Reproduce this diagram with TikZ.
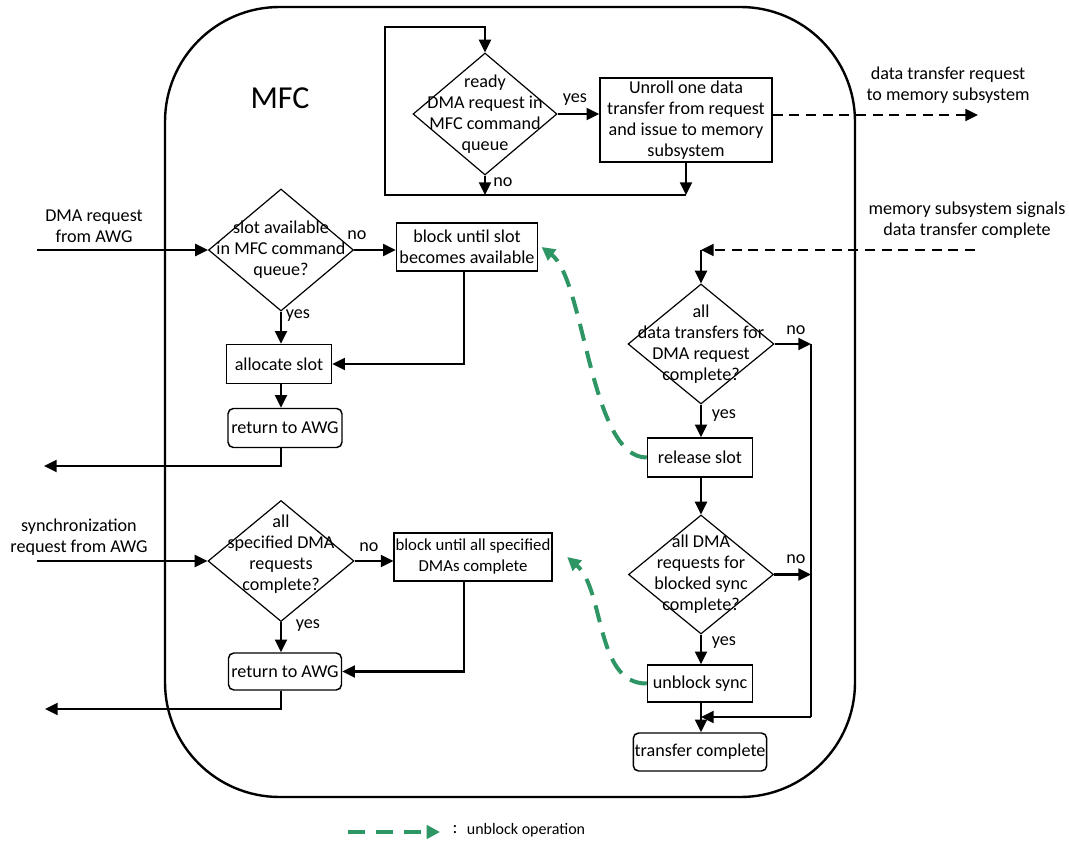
\documentclass[tikz,border=0pt]{standalone}
\usepackage{fontspec}
\setmainfont{Carlito}
\usetikzlibrary{shapes.geometric,arrows.meta}
\definecolor{unblockgreen}{RGB}{46,150,100}

\begin{document}
\begin{tikzpicture}[x=0.75pt,y=-0.75pt,
  sz/.style 2 args={minimum width=#1*0.75pt, minimum height=#2*0.75pt},
  txt/.style={font=\fontsize{13.6}{15.75}\selectfont, align=center, inner sep=0pt},
  proc/.style={draw, line width=1.1pt, txt, inner sep=1pt},
  term/.style={proc, rounded corners=4pt},
  dec/.style={draw, diamond, line width=0.9pt, inner sep=0pt},
  flow/.style={line width=1.6pt, -{Triangle[length=9.5pt,width=9pt]}},
  wire/.style={line width=1.6pt},
  sig/.style={line width=1.6pt, dash pattern=on 7.5pt off 5pt, -{Triangle[length=9.5pt,width=9pt]}},
  unblk/.style={color=unblockgreen, line width=3pt, dash pattern=on 13pt off 8pt,
    -{Triangle[length=10pt,width=10pt]}},
]
\useasboundingbox (0,0) rectangle (1069,841);

% MFC outline
\node[draw, line width=1.8pt, rounded corners=86pt, sz={690}{790}, inner sep=0pt] (mfcbox) at (510,402) {};
\node[txt, font=\fontsize{24}{28}\selectfont] (mfclbl) at (280,98) {MFC};

% outside labels
\node[txt] (xferreq) at (948,85) {data transfer request\\to memory subsystem};
\node[txt] (memsig) at (967,220) {memory subsystem signals\\data transfer complete};
\node[txt] (dmareq) at (94,226) {DMA request\\from AWG};
\node[txt] (syncreq) at (79,537) {synchronization\\request from AWG};

% issue loop
\node[dec, sz={144}{122}, label={[txt]center:ready\\DMA request in\\MFC command\\queue}] (qready) at (485,114) {};
\node[proc, sz={172}{84}] (unroll) at (686,120) {Unroll one data\\transfer from request\\and issue to memory\\subsystem};

% DMA request path
\node[dec, sz={145}{122}, label={[txt]center:slot available\\in MFC command\\queue?}] (qslot) at (281,250) {};
\node[proc, sz={141}{48}] (blkslot) at (467,247) {block until slot\\becomes available};
\node[proc, sz={105}{39}] (alloc) at (279,364) {allocate slot};
\node[term, sz={114}{39}] (ret1) at (285,428) {return to AWG};

% synchronization path
\node[dec, sz={146}{121}, label={[txt,yshift=5pt]center:all\\specified DMA\\requests\\complete?}] (qsync) at (281,561) {};
\node[proc, sz={154}{48}, font=\fontsize{12.6}{15.75}\selectfont] (blksync) at (473,557) {block until all specified\\DMAs complete};
\node[term, sz={113}{37}] (ret2) at (285,671.5) {return to AWG};

% completion path
\node[dec, sz={146}{120}, label={[txt]center:all\\data transfers for\\DMA request\\complete?}] (qxfer) at (701,344) {};
\node[proc, sz={105}{39}] (release) at (700,457.5) {release slot};
\node[dec, sz={145}{119}, label={[txt]center:all DMA\\requests for\\blocked sync\\complete?}] (qblk) at (701,574.5) {};
\node[proc, sz={105}{37}] (unblock) at (700,683.5) {unblock sync};
\node[term, sz={132}{38}] (done) at (700,752) {transfer complete};

% branch labels
\node[txt] (yes1) at (575,100) {yes};
\node[txt] (no1) at (503,182) {no};
\node[txt] (no2) at (357,235) {no};
\node[txt] (yes2) at (298,316) {yes};
\node[txt] (no3) at (369,547) {no};
\node[txt] (yes3) at (308,626) {yes};
\node[txt] (no4) at (796,330) {no};
\node[txt] (yes4) at (724,416) {yes};
\node[txt] (no5) at (796,559) {no};
\node[txt] (yes5) at (724,643) {yes};

% free ends and bends
\coordinate (lpbr) at (686,195);
\coordinate (lpbl) at (385,195);
\coordinate (lptl) at (385,27);
\coordinate (xferout) at (978,115);
\coordinate (sigin) at (975,250);
\coordinate (sigcorner) at (701,250);
\coordinate (in1) at (37,250);
\coordinate (out1) at (44,466);
\coordinate (in2) at (37,561);
\coordinate (out2) at (45,709);
\coordinate (busbot) at (811,717);
\coordinate (merge) at (701,717);
\coordinate (lg1) at (348,832);
\coordinate (lg2) at (440,832);

% issue loop connectors
\draw[flow] (unroll.south) -- (lpbr);
\draw[flow] (lpbr) -- (lpbl) -- (lptl) -| (qready.north);
\draw[flow] (qready.south) -- (qready.south |- lpbl);
\draw[flow] (qready.east) -- (qready.east -| unroll.west);
\draw[sig] ([yshift=3.75pt]unroll.east) -- (xferout);

% DMA request connectors
\draw[flow] (in1) -- (qslot.west);
\draw[flow] (qslot.east) -- (qslot.east -| blkslot.west);
\draw[flow] (qslot.south) -- (qslot.south |- alloc.north);
\draw[flow] ([xshift=-2.25pt]blkslot.south) |- (alloc.east);
\draw[flow] (qslot.south |- alloc.south) -- (qslot.south |- ret1.north);
\draw[flow] (qslot.south |- ret1.south) |- (out1);

% synchronization connectors
\draw[flow] (in2) -- (qsync.west);
\draw[flow] (qsync.east) -- (qsync.east -| blksync.west);
\draw[flow] (qsync.south) -- (qsync.south |- ret2.north);
\draw[flow] ([xshift=-6.75pt]blksync.south) |- (ret2.east);
\draw[flow] (qsync.south |- ret2.south) |- (out2);

% completion connectors
\draw[sig] (sigin) -- (sigcorner);
\draw[flow] (sigcorner) -- (qxfer.north);
\draw[flow] (qxfer.east) -- (qxfer.east -| busbot);
\draw[wire] (qxfer.east -| busbot) -- (busbot);
\draw[flow] (busbot) -- (merge);
\draw[flow] (qxfer.south) -- (qxfer.south |- release.north);
\draw[flow] (qxfer.south |- release.south) -- (qblk.north);
\draw[flow] (qblk.east) -- (qblk.east -| busbot);
\draw[flow] (qblk.south) -- (qblk.south |- unblock.north);
\draw[flow] (qblk.south |- unblock.south) -- (qblk.south |- done.north);

% unblock operations
\draw[unblk] (release.west) .. controls (590,458) and (585,280) .. ([xshift=2.5pt]blkslot.east);
\draw[unblk] (unblock.west) .. controls (595,684) and (605,590) .. ([xshift=11pt]blksync.east);

% legend
\draw[unblk] (lg1) -- (lg2);
\node[txt] (lgcolon) at (455,830) {:};
\node[txt, font=\fontsize{12}{14}\selectfont] (lgtext) at (526,830) {unblock operation};
\end{tikzpicture}
\end{document}
